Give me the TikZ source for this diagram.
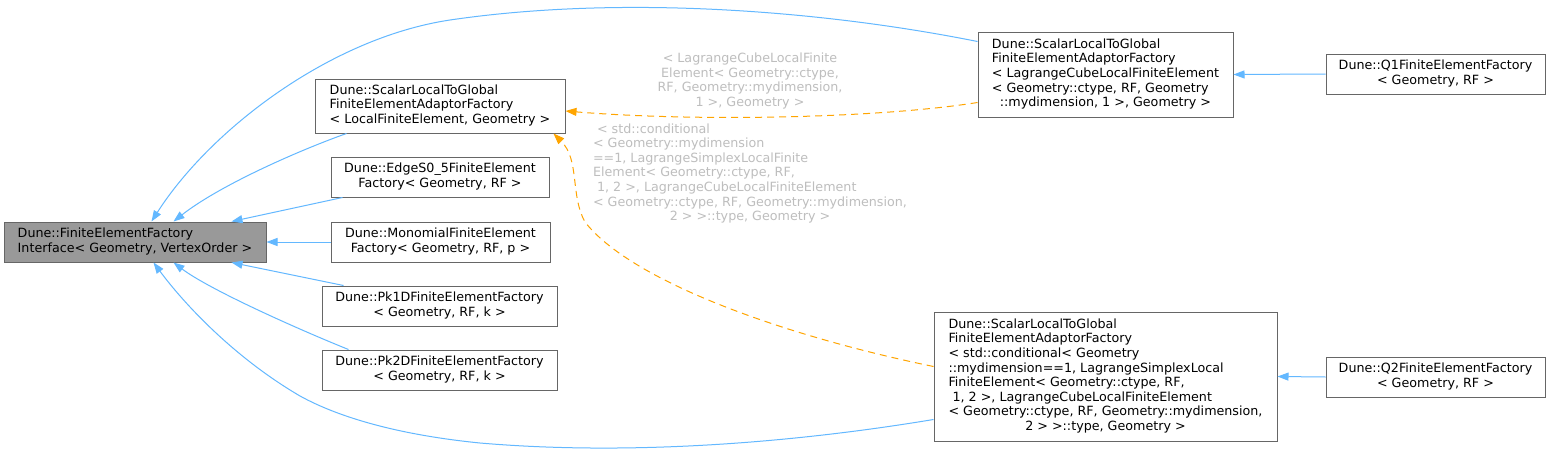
\documentclass[tikz,border=0pt]{standalone}
\usepackage{fontspec}
\setmainfont{DejaVu Sans}
\usetikzlibrary{arrows.meta,calc}
\definecolor{edgeblue}{HTML}{63B8FF}
\definecolor{edgeorange}{HTML}{FFA500}
\definecolor{boxborder}{HTML}{666666}
\definecolor{basefill}{HTML}{999999}
\definecolor{labgray}{HTML}{BEBEBE}
\newcommand\dxfont{\fontsize{12.7}{14.6}\selectfont}
\newcommand\dxlines[1]{\begin{tabular}{@{}l@{}}#1\end{tabular}}
\newcommand\dxlast[1]{\multicolumn{1}{@{}c@{}}{#1}}
\begin{document}
\begin{tikzpicture}[x=1pt,y=-1pt,
  box/.style={draw=boxborder, line width=1pt, fill=white, inner sep=0pt, font=\dxfont, text=black},
  basebox/.style={box, fill=basefill},
  blueedge/.style={draw=edgeblue, line width=1pt, -{Triangle[length=11pt,width=8pt]}},
  orangeedge/.style={draw=edgeorange, line width=1pt, dash pattern=on 7pt off 5pt, -{Triangle[length=11pt,width=8pt]}},
  lab/.style={font=\dxfont, text=labgray, inner sep=0pt, align=center}]
\useasboundingbox (0,0) rectangle (1551,458);
\fill[white] (0,0) rectangle (1551,458);

\node[basebox, minimum width=262pt, minimum height=40pt] (base) at (135,242)
  {\dxlines{Dune::FiniteElementFactory\\\dxlast{Interface< Geometry, VertexOrder >}}};
\node[box, minimum width=250pt, minimum height=54pt] (sltgL) at (440,106)
  {\dxlines{Dune::ScalarLocalToGlobal\\FiniteElementAdaptorFactory\\\dxlast{< LocalFiniteElement, Geometry >}}};
\node[box, minimum width=218pt, minimum height=40pt] (edge) at (440,177)
  {\dxlines{Dune::EdgeS0\_5FiniteElement\\\dxlast{Factory< Geometry, RF >}}};
\node[box, minimum width=219pt, minimum height=40pt] (mono) at (440.5,242)
  {\dxlines{Dune::MonomialFiniteElement\\\dxlast{Factory< Geometry, RF, p >}}};
\node[box, minimum width=235pt, minimum height=40pt] (pk1) at (439.5,306)
  {\dxlines{Dune::Pk1DFiniteElementFactory\\\dxlast{< Geometry, RF, k >}}};
\node[box, minimum width=235pt, minimum height=40pt] (pk2) at (439.5,370)
  {\dxlines{Dune::Pk2DFiniteElementFactory\\\dxlast{< Geometry, RF, k >}}};
\node[box, minimum width=255pt, minimum height=85pt] (cube) at (1105.5,74.5)
  {\dxlines{Dune::ScalarLocalToGlobal\\FiniteElementAdaptorFactory\\< LagrangeCubeLocalFiniteElement\\< Geometry::ctype, RF, Geometry\\\dxlast{::mydimension, 1 >, Geometry >}}};
\node[box, minimum width=219pt, minimum height=40pt] (q1) at (1435.5,74)
  {\dxlines{Dune::Q1FiniteElementFactory\\\dxlast{< Geometry, RF >}}};
\node[box, minimum width=343pt, minimum height=129pt] (cond) at (1105.5,376.5)
  {\dxlines{Dune::ScalarLocalToGlobal\\FiniteElementAdaptorFactory\\< std::conditional< Geometry\\::mydimension==1, LagrangeSimplexLocal\\FiniteElement< Geometry::ctype, RF,\\\ 1, 2 >, LagrangeCubeLocalFiniteElement\\< Geometry::ctype, RF, Geometry::mydimension,\\\dxlast{2 > >::type, Geometry >}}};
\node[box, minimum width=219pt, minimum height=40pt] (q2) at (1435.5,377)
  {\dxlines{Dune::Q2FiniteElementFactory\\\dxlast{< Geometry, RF >}}};

% edge labels
\node[lab] (l1) at (750,81) {< LagrangeCubeLocalFinite\\Element< Geometry::ctype,\\ RF, Geometry::mydimension,\\1 >, Geometry >};
\node[lab] (l2) at (750,174) {\dxlines{\ < std::conditional\\< Geometry::mydimension\\==1, LagrangeSimplexLocalFinite\\Element< Geometry::ctype, RF,\\\ 1, 2 >, LagrangeCubeLocalFiniteElement\\< Geometry::ctype, RF, Geometry::mydimension,\\\dxlast{2 > >::type, Geometry >}}};

% inheritance edges (blue)
\draw[blueedge] ($(cube.north west)+(0,10)$) .. controls (820,10) and (620,-5) .. (450,20)
  .. controls (330,38) and (210,130) .. ($(base.north west)+(148,0)$);
\draw[blueedge] ($(sltgL.south west)+(32,0)$) .. controls (300,150) and (220,185) .. ($(base.north west)+(170,0)$);
\draw[blueedge] ($(edge.south west)+(12,0)$) -- ($(base.north west)+(228,0)$);
\draw[blueedge] (mono.west) -- (base.east);
\draw[blueedge] ($(pk1.north west)+(22,0)$) -- ($(base.south west)+(228,0)$);
\draw[blueedge] ($(pk2.north west)+(27,0)$) .. controls (300,330) and (210,290) .. ($(base.south west)+(170,0)$);
\draw[blueedge] ($(cond.south west)+(0,-22)$) .. controls (780,445) and (620,455) .. (480,443)
  .. controls (400,435) and (340,418) .. (300,396)
  .. controls (235,358) and (185,305) .. ($(base.south west)+(150,0)$);
\draw[blueedge] (q1.west) -- (cube.east);
\draw[blueedge] (q2.west) -- (cond.east);

% template instantiation edges (orange, dashed)
\draw[orangeedge] ($(cube.south west)+(0,-15)$) .. controls (880,118) and (700,122) .. ($(sltgL.east)+(0,5)$);
\draw[orangeedge] ($(cond.north west)+(0,55)$) .. controls (780,335) and (630,280) .. (585,222)
  .. controls (570,195) and (580,160) .. ($(sltgL.south east)+(-12,0)$);
\end{tikzpicture}
\end{document}
